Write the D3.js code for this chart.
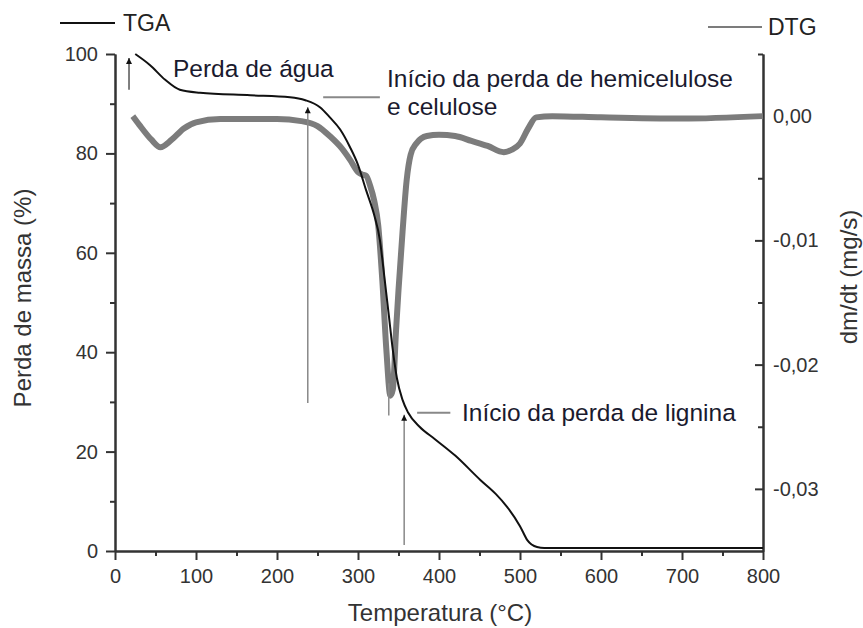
<!DOCTYPE html>
<html>
<head>
<meta charset="utf-8">
<script src="https://cdn.jsdelivr.net/npm/d3@7"></script>
<style>
body { margin: 0; background: #fff; }
text { font-family: "Liberation Sans", Arial, sans-serif; }
</style>
</head>
<body>
<div id="chart"></div>
<script>
// curva TGA: temperatura (°C) e massa (%)
var tgaTemp = [25, 43, 62, 80, 105, 167, 216, 235, 253, 265, 278, 290, 300, 310, 320, 327, 333, 338, 343, 348, 355, 362, 376, 395, 420, 451, 470, 484, 500, 509, 521, 530, 600, 700, 800];
var tgaMass = [100, 97.8, 94.8, 92.8, 92.2, 91.7, 91.3, 90.7, 89.3, 87.3, 84.8, 81.3, 77.7, 72.6, 67.6, 62.6, 54.5, 47.5, 40.4, 34.8, 30.4, 27.8, 25.0, 22.5, 19.2, 14.3, 11.5, 8.9, 5.0, 2.2, 0.8, 0.6, 0.6, 0.6, 0.6];

// curva DTG: temperatura (°C) e dm/dt (mg/s)
var dtgTemp = [22, 30, 45, 56, 70, 85, 100, 130, 200, 230, 250, 265, 280, 290, 300, 305, 310, 315, 320, 325, 330, 335, 340, 343, 347, 350, 355, 360, 365, 372, 385, 400, 420, 440, 460, 480, 490, 500, 510, 520, 540, 600, 700, 800];
var dtgVal = [0, -0.0007, -0.0019, -0.0025, -0.0019, -0.001, -0.0005, -0.00024, -0.00024, -0.0004, -0.0008, -0.0016, -0.0026, -0.0035, -0.0045, -0.0047, -0.0048, -0.0056, -0.0068, -0.0088, -0.0132, -0.0188, -0.0225, -0.022, -0.0172, -0.014, -0.0093, -0.0052, -0.0031, -0.0022, -0.0016, -0.0015, -0.0016, -0.002, -0.0024, -0.0029, -0.0027, -0.0022, -0.001, -0.0001, 0, -0.0001, -0.0002, 0];
// pico fino no mínimo da DTG
var spikeTemp = [338, 338];
var spikeVal = [-0.0215, -0.0241];

var xTicks = [0, 100, 200, 300, 400, 500, 600, 700, 800];
var yTicks = [0, 20, 40, 60, 80, 100];
var y2Ticks = [0, -0.01, -0.02, -0.03];

var width = 863, height = 628;

var x = d3.scaleLinear().domain([0, 800]).range([115, 763]);
var y = d3.scaleLinear().domain([0, 100]).range([551, 54]);
var y2 = d3.scaleLinear().domain([-0.035, 0.005]).range([551, 54]);

var svg = d3.select("#chart").append("svg")
    .attr("width", width)
    .attr("height", height);

var defs = svg.append("defs");
defs.append("marker")
    .attr("id", "head")
    .attr("viewBox", "0 0 10 10")
    .attr("refX", 10).attr("refY", 5)
    .attr("markerWidth", 9).attr("markerHeight", 6)
    .attr("markerUnits", "userSpaceOnUse")
    .attr("orient", "auto")
  .append("path")
    .attr("d", "M0,0 L10,5 L0,10 Z")
    .attr("fill", "#111");

// eixos
function styleAxis(g) {
    g.selectAll("path.domain").attr("stroke", "#333").attr("stroke-width", 2);
    g.selectAll(".tick line").attr("stroke", "#333").attr("stroke-width", 2);
    g.selectAll(".tick text").attr("fill", "#333").style("font-size", "20px")
        .style("font-family", "'Liberation Sans', Arial, sans-serif");
}

svg.append("g")
    .attr("transform", "translate(115,0)")
    .call(d3.axisLeft(y).tickValues([10, 30, 50, 70, 90]).tickSize(5).tickSizeOuter(0).tickFormat(""))
    .call(styleAxis);
svg.append("g")
    .attr("transform", "translate(115,0)")
    .call(d3.axisLeft(y).tickValues(yTicks).tickSize(9).tickSizeOuter(0).tickPadding(8))
    .call(styleAxis);

svg.append("g")
    .attr("transform", "translate(0,551)")
    .call(d3.axisBottom(x).tickValues(d3.range(50, 800, 100)).tickSize(5).tickSizeOuter(0).tickFormat(""))
    .call(styleAxis);
svg.append("g")
    .attr("transform", "translate(0,551)")
    .call(d3.axisBottom(x).tickValues(xTicks).tickSize(9).tickSizeOuter(0).tickPadding(9))
    .call(styleAxis);

svg.append("g")
    .attr("transform", "translate(763,0)")
    .call(d3.axisRight(y2).tickValues([0.005, -0.005, -0.015, -0.025]).tickSizeInner(-5).tickSizeOuter(0).tickFormat(""))
    .call(styleAxis);
svg.append("g")
    .attr("transform", "translate(763,0)")
    .call(d3.axisRight(y2).tickValues(y2Ticks).tickSizeInner(-8).tickSizeOuter(0).tickPadding(10)
        .tickFormat(function(d) { return d.toFixed(2).replace(".", ","); }))
    .call(styleAxis);

// títulos dos eixos
svg.append("text")
    .attr("transform", "translate(31,298) rotate(-90)")
    .attr("text-anchor", "middle")
    .attr("fill", "#333")
    .style("font-size", "24px")
    .text("Perda de massa (%)");
svg.append("text")
    .attr("x", 440).attr("y", 621)
    .attr("text-anchor", "middle")
    .attr("fill", "#333")
    .style("font-size", "24px")
    .text("Temperatura (°C)");
svg.append("text")
    .attr("transform", "translate(857,277) rotate(-90)")
    .attr("text-anchor", "middle")
    .attr("fill", "#333")
    .style("font-size", "24px")
    .text("dm/dt (mg/s)");

// curvas
var tgaData = tgaTemp.map(function(t, i) { return {t: t, v: tgaMass[i]}; });
var dtgData = dtgTemp.map(function(t, i) { return {t: t, v: dtgVal[i]}; });
var spikeData = spikeTemp.map(function(t, i) { return {t: t, v: spikeVal[i]}; });

var dtgLine = d3.line().x(function(d) { return x(d.t); }).y(function(d) { return y2(d.v); })
    .curve(d3.curveMonotoneX);
var tgaLine = d3.line().x(function(d) { return x(d.t); }).y(function(d) { return y(d.v); })
    .curve(d3.curveMonotoneX);

svg.append("path")
    .datum(dtgData)
    .attr("d", dtgLine)
    .attr("fill", "none")
    .attr("stroke", "#7c7c7c")
    .attr("stroke-width", 6)
    .attr("stroke-linejoin", "round");

svg.append("path")
    .datum(spikeData)
    .attr("d", d3.line().x(function(d) { return x(d.t); }).y(function(d) { return y2(d.v); }))
    .attr("stroke", "#8a8a8a")
    .attr("stroke-width", 1.5);

svg.append("path")
    .datum(tgaData)
    .attr("d", tgaLine)
    .attr("fill", "none")
    .attr("stroke", "#111")
    .attr("stroke-width", 2);

// legendas
svg.append("line").attr("x1", 60).attr("x2", 115).attr("y1", 23).attr("y2", 23)
    .attr("stroke", "#111").attr("stroke-width", 2);
svg.append("text").attr("x", 123).attr("y", 31).attr("fill", "#222")
    .style("font-size", "23px").text("TGA");
svg.append("line").attr("x1", 708).attr("x2", 762).attr("y1", 27).attr("y2", 27)
    .attr("stroke", "#7c7c7c").attr("stroke-width", 2);
svg.append("text").attr("x", 768).attr("y", 35).attr("fill", "#222")
    .style("font-size", "23px").text("DTG");

// setas e anotações
function arrow(t, m0, m1, col) {
    svg.append("line")
        .attr("x1", x(t)).attr("x2", x(t))
        .attr("y1", y(m0)).attr("y2", y(m1))
        .attr("stroke", col).attr("stroke-width", 1.5)
        .attr("marker-end", "url(#head)");
}
arrow(17.3, 92.8, 99.2, "#555");
arrow(238, 29.8, 89.3, "#888");
arrow(357, 1.2, 27.4, "#888");

svg.append("line").attr("x1", x(257)).attr("x2", x(327)).attr("y1", y(91.3)).attr("y2", y(91.3))
    .attr("stroke", "#888").attr("stroke-width", 2);
svg.append("line").attr("x1", x(373)).attr("x2", x(414)).attr("y1", y(27.8)).attr("y2", y(27.8))
    .attr("stroke", "#888").attr("stroke-width", 2);

var note = svg.append("g").attr("fill", "#1a1a2e").style("font-size", "24.5px");
note.append("text").attr("x", x(71.6)).attr("y", y(95.4)).text("Perda de água");
note.append("text").attr("x", x(335.8)).attr("y", y(93.4)).text("Início da perda de hemicelulose");
note.append("text").attr("x", x(335.8)).attr("y", y(87.7)).text("e celulose");
note.append("text").attr("x", x(428.4)).attr("y", y(26.2)).text("Início da perda de lignina");
</script>
</body>
</html>
